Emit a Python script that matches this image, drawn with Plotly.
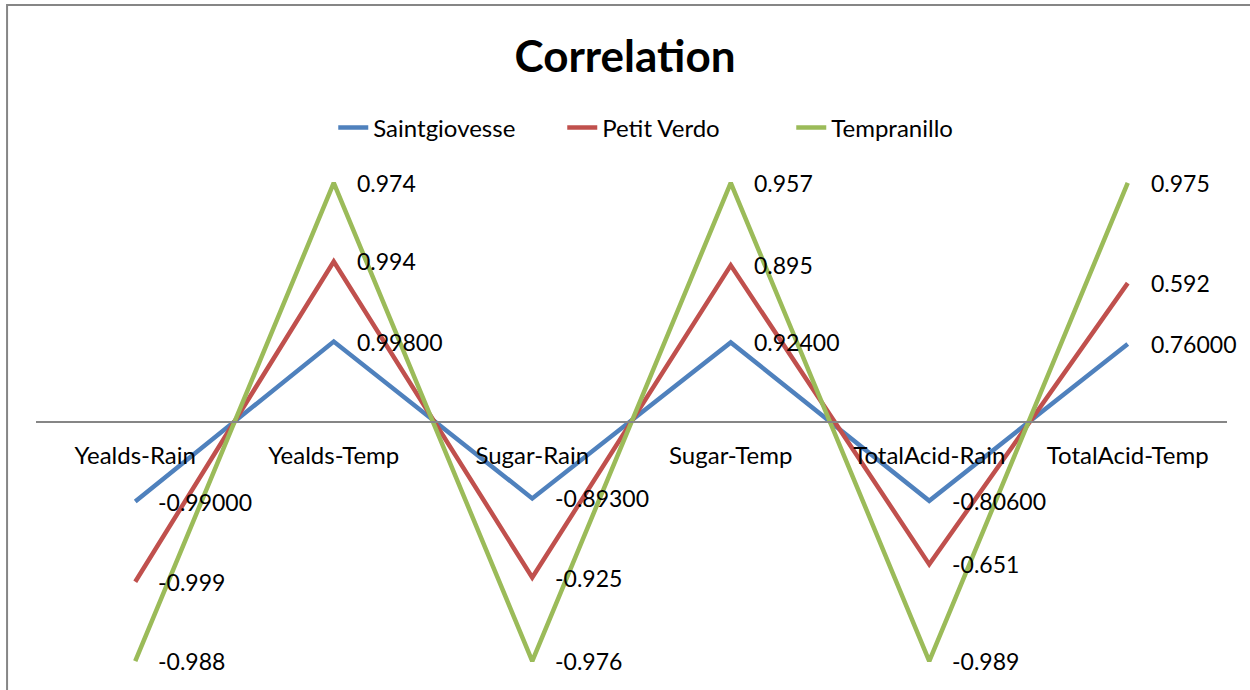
import numpy as np
import plotly.graph_objects as go

categories = ["Yealds-Rain", "Yealds-Temp", "Sugar-Rain", "Sugar-Temp", "TotalAcid-Rain", "TotalAcid-Temp"]
series_names = ["Saintgiovesse", "Petit Verdo", "Tempranillo"]
saintgiovesse = [-0.990, 0.998, -0.893, 0.924, -0.806, 0.760]
petit_verdo = [-0.999, 0.994, -0.925, 0.895, -0.651, 0.592]
tempranillo = [-0.988, 0.974, -0.976, 0.957, -0.989, 0.975]
label_formats = ["{:.5f}", "{:.3f}", "{:.3f}"]
colors = ["#4F81BD", "#C0504D", "#9BBB59"]

values = np.array([saintgiovesse, petit_verdo, tempranillo])
totals = np.abs(values.sum(axis=0))
stacked = np.cumsum(values, axis=0) / totals  # 100% stacked line

FONT = "Lato"
fig = go.Figure()
annotations = []
for i, name in enumerate(series_names):
    fig.add_trace(go.Scatter(
        x=categories, y=stacked[i], name=name, mode="lines",
        line=dict(color=colors[i], width=4.5),
    ))
    for c, yv, v in zip(categories, stacked[i], values[i]):
        annotations.append(dict(
            x=c, y=yv, text=label_formats[i].format(v), showarrow=False,
            xanchor="left", yanchor="middle", xshift=21,
            font=dict(family=FONT, size=23, color="#000000"),
        ))

fig.update_layout(
    width=1250, height=690,
    margin=dict(l=36, r=23, t=171, b=17, autoexpand=False),
    paper_bgcolor="white", plot_bgcolor="white",
    title=dict(text="<b>Correlation</b>", x=0.5, xanchor="center", y=1 - 57 / 690,
               yanchor="middle", yref="container",
               font=dict(family=FONT, size=44, color="#000000")),
    legend=dict(orientation="h", x=0.538, xanchor="center", y=1.086, yanchor="middle",
                entrywidth=184, itemwidth=30,
                font=dict(family=FONT, size=24, color="#000000"), bgcolor="rgba(0,0,0,0)"),
    xaxis=dict(anchor="free", position=0.5, showline=True, linecolor="#868686", linewidth=1.5,
               range=[-0.5, 5.5], automargin=False,
               ticks="", showgrid=False, zeroline=False, ticklabelstandoff=12,
               tickfont=dict(family=FONT, size=24, color="#000000")),
    yaxis=dict(range=[-1.05, 1.05], visible=False, showgrid=False, zeroline=False, automargin=False),
    annotations=annotations,
    shapes=[dict(type="rect", xref="paper", yref="paper", x0=-0.0243, x1=1.021, y0=-0.044, y1=1.3307,
                 line=dict(color="#868686", width=2), fillcolor="rgba(0,0,0,0)", layer="below")],
    showlegend=True,
)

fig.write_html("out.html", config={"displayModeBar": False},
               post_script="document.body.style.margin='0';")
